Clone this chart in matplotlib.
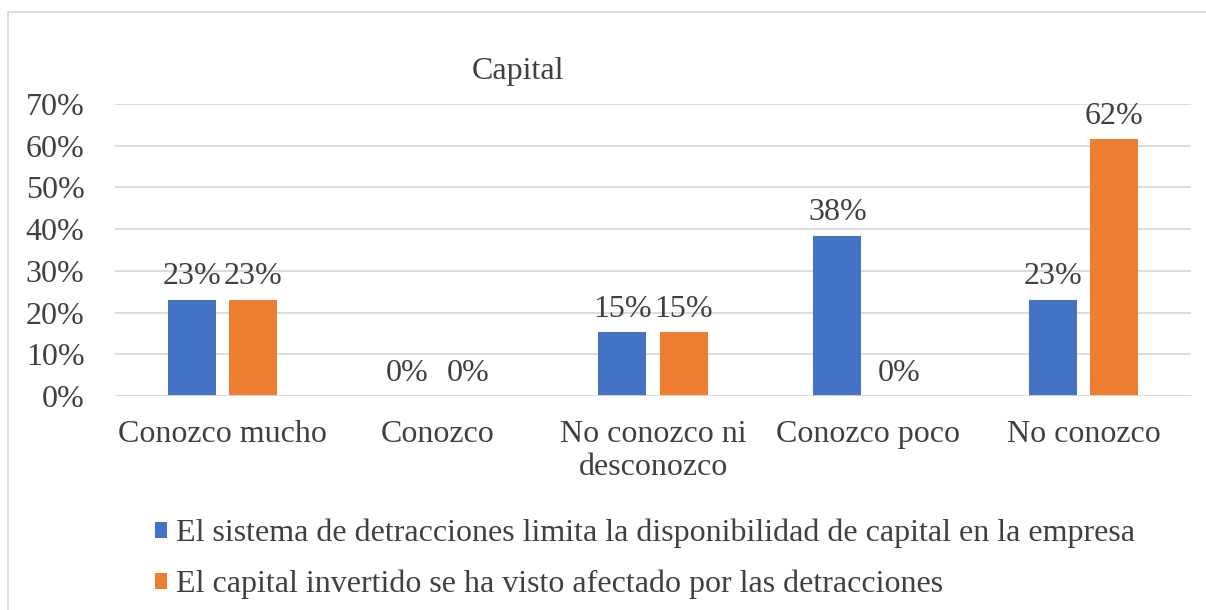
import matplotlib
matplotlib.use("Agg")
import matplotlib.pyplot as plt
from matplotlib import font_manager as fm
from matplotlib.patches import Rectangle
import numpy as np
import os

categories = ["Conozco mucho", "Conozco", "No conozco ni\ndesconozco", "Conozco poco", "No conozco"]
series_names = ["El sistema de detracciones limita la disponibilidad de capital en la empresa",
                "El capital invertido se ha visto afectado por las detracciones"]
series1 = [23.08, 0.0, 15.38, 38.46, 23.08]
series2 = [23.08, 0.0, 15.38, 0.0, 61.54]
labels1 = ["23%", "0%", "15%", "38%", "23%"]
labels2 = ["23%", "0%", "15%", "0%", "62%"]
yticks = [0, 10, 20, 30, 40, 50, 60, 70]
title = "Capital"

W, H = 1206, 610
FS = 23
path = '/usr/share/fonts/truetype/liberation/LiberationSerif-Regular.ttf'
if os.path.exists(path):
    fp = fm.FontProperties(fname=path, size=FS)
else:
    fp = fm.FontProperties(family='serif', size=FS)

colors = ["#4472C4", "#ED7D31"]
txt = "#404040"

fig = plt.figure(figsize=(W/100, H/100), dpi=100)
ax = fig.add_axes([115/W, 1-396/H, (1191-115)/W, (396-104)/H])

x = np.arange(len(categories))
bw = 0.223
off = 0.143
b1 = ax.bar(x - off, series1, bw, color=colors[0], label=series_names[0])
b2 = ax.bar(x + off, series2, bw, color=colors[1], label=series_names[1])
ax.bar_label(b1, labels=labels1, padding=6, color=txt, fontproperties=fp)
ax.bar_label(b2, labels=labels2, padding=6, color=txt, fontproperties=fp)

ax.set_xlim(-0.5, len(categories) - 0.5)
ax.set_ylim(0, 70)
ax.set_yticks(yticks)
ax.set_yticklabels([f"{t}%" for t in yticks], color=txt, fontproperties=fp)
ax.set_xticks(x)
ax.set_xticklabels(categories, color=txt, linespacing=1.2, fontproperties=fp)
ax.tick_params(length=0)
ax.tick_params(axis='y', pad=22)
ax.tick_params(axis='x', pad=17)
for s in ax.spines.values():
    s.set_visible(False)
ax.grid(axis='y', color='#D9D9D9', linewidth=1.3)
ax.set_axisbelow(True)
ax.axhline(0, color='#D9D9D9', linewidth=1.3)

fig.text(518/W, 1-71/H, title, color=txt, ha='center', va='center', fontproperties=fp)

leg = fig.legend(handles=[b1, b2], loc='upper left', bbox_to_anchor=(126/W, 1-490/H),
                 frameon=False, prop=fp,
                 labelcolor=txt, handlelength=0.38,
                 handleheight=0.38, handletextpad=0.3, labelspacing=0.68)

fig.patches.append(Rectangle((8/W, -0.1), 1.2, 1 + 0.1 - 12/H, transform=fig.transFigure,
                             fill=False, edgecolor='#D9D9D9', linewidth=1.3))

fig.savefig("out.png", dpi=100)
